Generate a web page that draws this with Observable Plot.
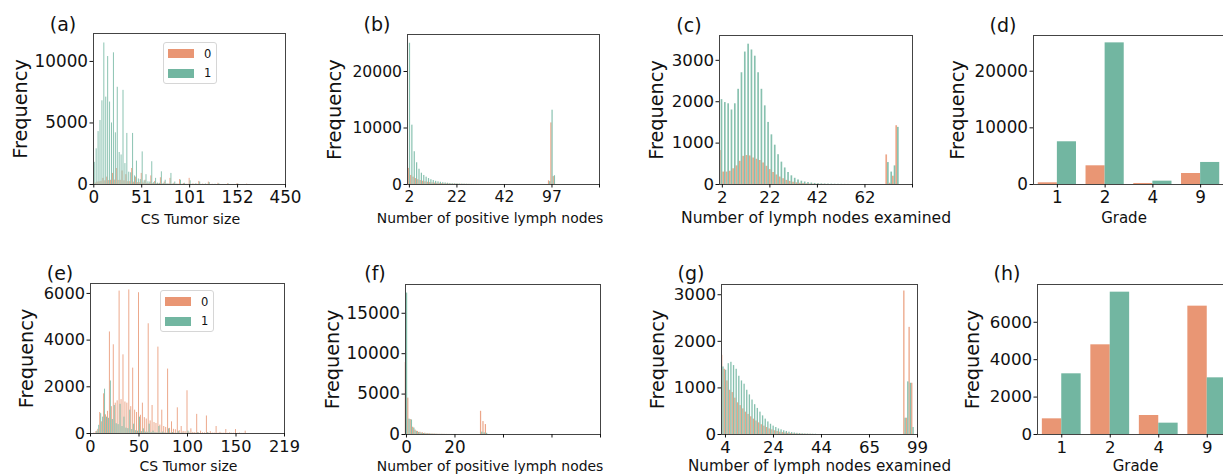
<!DOCTYPE html>
<html><head><meta charset="utf-8">
<script src="https://cdn.jsdelivr.net/npm/d3@7"></script>
<script src="https://cdn.jsdelivr.net/npm/@observablehq/plot@0.6"></script>
<style>
body{margin:0;background:#fff;font-family:"DejaVu Sans",sans-serif;}
#fig{position:relative;width:1223px;height:475px;overflow:hidden;background:#fff;}
.legend{position:absolute;border:1px solid #d6d6d6;border-radius:3px;background:rgba(255,255,255,0.85);box-sizing:border-box;}
.legend .patch{position:absolute;width:26px;height:9px;}
.legend .lab{position:absolute;font-size:11.5px;line-height:12px;color:#111;}
</style></head><body><div id="fig"></div>
<script>
// ---------------- data ----------------
const seriesLabels = ["0", "1"];
const seriesColors = ["#e99674", "#72b6a1"];
const yLabel = "Frequency";

// (a) CS Tumor size (bins of two encoded values)
const aTicks = [0, 50, 100, 150, 200];
const aTickLabels = ["0", "51", "101", "152", "450"];
const aZero = [100,120,200,220,260,500,300,600,320,340,
 900,360,1300,330,340,1100,300,800,230,230,
 1300,190,600,150,150,900,120,350,90,80,
 700,70,250,50,50,550,40,200,30,30,
 500,20,100,20,20,400,15,80,15,15,
 500,10,50,10,10,250,5,30,5,5,
 200,0,20,0,0,100,0,0,0,0,
 60,0,0,0,0,80,0,0,0,0,
 30];
const aOne = [1800,2900,4300,5200,6800,11500,7100,10400,6700,5000,
 10700,4200,7900,2600,2400,7650,1700,4150,1000,950,
 4150,700,1900,450,400,2650,300,800,220,200,
 1850,150,500,110,90,1030,70,350,50,45,
 900,35,200,25,20,350,15,100,12,10,
 300,8,8,60,8,200,5,5,40,5,
 150,0,0,20,0,60,0,0,0,0,
 40,0,0,0,0,30];

// (b) Number of positive lymph nodes
const bTicks = [0, 20, 40, 60, 80];
const bTickLabels = ["2", "22", "42", "97", ""];
const bZero = [2850,1600,1300,1050,850,700,580,480,400,340,
 290,250,210,180,150,130,110,95,80,70,
 60,50,40,35,30,25,20,15,10,8,
 6,5,4,0,0,0,0,0,0,0,
 0,0,0,0,0,0,0,0,0,0,
 0,0,0,0,0,0,0,0,0,650,
 10900,1400];
const bOne = [25000,10500,5800,3850,2700,2000,1600,1300,1050,850,
 700,560,470,390,320,270,220,180,150,130,
 110,90,75,60,50,40,30,25,20,15,
 10,8,6,5,4,0,0,0,0,0,
 0,0,0,0,0,0,0,0,0,0,
 0,0,0,0,0,0,0,0,0,500,
 13150,1550];

// (c) Number of lymph nodes examined
const cTicks = [0, 20, 40, 60, 80];
const cTickLabels = ["2", "22", "42", "62", ""];
const cZero = [820,300,300,320,380,450,560,680,700,690,
 640,610,580,520,440,360,290,230,180,140,
 100,75,55,40,30,22,16,12,8,6,
 4,3,2,0,0,0,0,0,0,0,
 0,0,0,0,0,0,0,0,0,0,
 715,30,200,1420];
const cOne = [2050,1980,1950,1800,1950,2300,2700,3200,3390,3250,
 3100,2700,2300,1900,1500,1200,950,720,540,400,
 290,210,150,110,80,60,45,35,25,20,
 15,12,10,8,6,5,4,3,2,0,
 0,0,0,0,0,0,0,0,0,0,
 530,300,450,1380];

// (d) Grade
const dGrades = ["1", "2", "4", "9"];
const dZero = [300, 3300, 180, 1940];
const dOne = [7540, 25000, 590, 3890];

// (e) CS Tumor size (bins of two encoded values)
const eTicks = [0, 50, 100, 150, 200];
const eTickLabels = ["0", "50", "100", "150", "219"];
const eZero = [0,0,20,80,180,900,500,1700,800,950,
 4350,1150,3800,1300,1400,6100,1450,3370,1350,1300,
 6150,1150,2800,1000,900,6030,780,1300,680,620,
 4700,540,1200,470,430,3700,360,1000,300,260,
 2760,220,500,180,160,1100,120,300,90,80,
 1830,60,200,45,38,820,30,100,30,25,
 750,20,80,20,20,300,15,50,15,15,
 170,10,30,10,10,170,5,20,5,5,
 100];
const eOne = [0,0,0,100,350,850,700,1900,700,650,
 2250,600,1200,420,380,1250,300,700,230,210,
 1000,170,400,120,100,700,80,200,60,55,
 400,45,100,35,30,300,25,60,20,15,
 200,15,40,10,10,80,5,20,5,5,
 100,5,10,5,5,40,0,0,0,0,
 40];

// (f) Number of positive lymph nodes
const fTicks = [0, 20, 40, 60, 80];
const fTickLabels = ["0", "20", "", "", ""];
const fZero = [8900,4500,1850,900,550,380,280,210,160,120,
 90,70,55,40,30,25,20,15,10,8,
 6,5,4,3,2,0,0,0,0,0,
 0,2870,1600,1230];
const fOne = [17500,1900,1800,800,400,250,170,120,90,70,
 50,40,30,20,15,10,8,6,5,4,
 3,2,0,0,0,0,0,0,0,0,
 0,290,200,150];

// (g) Number of lymph nodes examined
const gTicks = [0, 20, 40, 60, 80];
const gTickLabels = ["4", "24", "44", "65", "99"];
const gZero = [1700,1400,1150,950,900,780,680,620,550,480,
 430,380,330,290,250,210,180,150,120,100,
 80,65,50,40,32,25,20,15,12,10,
 8,6,5,4,3,0,0,0,0,0,
 0,0,0,0,0,0,0,0,0,0,
 0,0,0,0,0,0,0,0,0,0,
 0,0,0,0,0,0,0,0,0,3080,
 350,2300,1100];
const gOne = [1450,1380,1520,1550,1480,1400,1250,1150,1080,950,
 850,740,640,560,480,400,330,270,220,180,
 150,120,100,80,65,50,40,32,25,20,
 15,12,10,8,6,5,0,0,0,0,
 0,0,0,0,0,0,0,0,0,0,
 0,0,0,0,0,0,0,0,0,0,
 0,0,0,0,0,0,0,0,0,350,
 1130,1100,150];

// (h) Grade
const hGrades = ["1", "2", "4", "9"];
const hZero = [838, 4795, 1016, 6862];
const hOne = [3245, 7610, 606, 3030];

// ---------------- drawing ----------------
const fig = document.getElementById("fig");
const ML = 95, MT = 42, MR = 15, MB = 50;

function rows(counts, start, step, width, half) {
  return counts.map((v, k) => {
    const L = start + k * step;
    return half === 0 ? {x1: L, x2: L + width / 2, v} : {x1: L + width / 2, x2: L + width, v};
  }).filter(d => d.v > 0);
}

function drawPanel(p) {
  const zero = rows(p.zero, p.start, p.step, p.width, 0);
  const one = rows(p.one, p.start, p.step, p.width, 1);
  const svg = Plot.plot({
    width: ML + p.w + MR,
    height: MT + p.h + MB,
    marginLeft: ML, marginRight: MR, marginTop: MT, marginBottom: MB,
    style: {fontFamily: '"DejaVu Sans", sans-serif', color: "#111", background: "transparent", overflow: "visible"},
    x: {domain: p.xDomain},
    y: {domain: p.yDomain},
    marks: [
      Plot.rect(zero, {x1: "x1", x2: "x2", y1: 0, y2: "v", fill: seriesColors[0], fillOpacity: p.opacity}),
      Plot.rect(one, {x1: "x1", x2: "x2", y1: 0, y2: "v", fill: seriesColors[1], fillOpacity: p.opacity}),
      Plot.frame({stroke: "#444", strokeWidth: 1}),
      Plot.axisX({ticks: p.xTicks, tickFormat: d => p.xLabels[p.xTicks.indexOf(d)], tickSize: 3.5, tickPadding: 3, fontSize: p.tickFont, label: null}),
      Plot.axisY({ticks: p.yTicks, tickFormat: d => String(d), tickSize: 3.5, tickPadding: 2, fontSize: p.tickFont, label: null}),
      Plot.text([yLabel], {text: d => d, frameAnchor: "left", textAnchor: "middle", lineAnchor: "middle", rotate: -90, dx: -p.yLabelOff, fontSize: p.yLabelFont}),
      Plot.text([p.xLabel], {text: d => d, frameAnchor: "bottom", textAnchor: "middle", lineAnchor: "middle", dy: p.xLabelDy, dx: p.xLabelDx, fontSize: p.xLabelFont}),
      Plot.text([p.letter], {text: d => d, frameAnchor: "top-left", textAnchor: "middle", lineAnchor: "middle", dx: -30.5, dy: p.letterDy, fontSize: 19})
    ]
  });
  svg.style.position = "absolute";
  svg.style.left = (p.left - ML) + "px";
  svg.style.top = (p.top - MT) + "px";
  fig.appendChild(svg);
}

function drawLegend(left, top) {
  const div = document.createElement("div");
  div.className = "legend";
  Object.assign(div.style, {left: left + "px", top: top + "px", width: "54px", height: "42px"});
  seriesLabels.forEach((s, i) => {
    const patch = document.createElement("div");
    patch.className = "patch";
    Object.assign(patch.style, {left: "4px", top: (6 + i * 19.5) + "px", background: seriesColors[i]});
    const lab = document.createElement("div");
    lab.className = "lab";
    lab.textContent = s;
    Object.assign(lab.style, {left: "40px", top: (4.5 + i * 19.5) + "px"});
    div.appendChild(patch);
    div.appendChild(lab);
  });
  fig.appendChild(div);
}

const histOpacity = 0.85;
const panels = [
  {letter: "(a)", xLabel: "CS Tumor size", left: 93, top: 33, w: 192, h: 151,
   zero: aZero, one: aOne, start: -0.5, step: 2, width: 2, xDomain: [-0.3, 200], yDomain: [0, 12270],
   xTicks: aTicks, xLabels: aTickLabels, yTicks: [0, 5000, 10000], tickFont: 16.8, yLabelFont: 19.3, xLabelFont: 14.2,
   yLabelOff: 73, xLabelDx: 1, xLabelDy: 34.5, letterDy: -8.7, opacity: histOpacity},
  {letter: "(b)", xLabel: "Number of positive lymph nodes", left: 407, top: 34, w: 192, h: 150,
   zero: bZero, one: bOne, start: -0.5, step: 1, width: 1, xDomain: [-0.8, 80], yDomain: [0, 26550],
   xTicks: bTicks, xLabels: bTickLabels, yTicks: [0, 10000, 20000], tickFont: 15.6, yLabelFont: 19.5, xLabelFont: 13.9,
   yLabelOff: 73, xLabelDx: -13.5, xLabelDy: 34, letterDy: -9.5, opacity: histOpacity},
  {letter: "(c)", xLabel: "Number of lymph nodes examined", left: 719, top: 35, w: 193, h: 149,
   zero: cZero, one: cOne, start: -1.2, step: 1.4, width: 1.4, xDomain: [-1.2, 80], yDomain: [0, 3600],
   xTicks: cTicks, xLabels: cTickLabels, yTicks: [0, 1000, 2000, 3000], tickFont: 16.6, yLabelFont: 19.3, xLabelFont: 15.6,
   yLabelOff: 63, xLabelDx: 0, xLabelDy: 33.5, letterDy: -10, opacity: histOpacity},
  {letter: "(d)", xLabel: "Grade", left: 1033, top: 35, w: 191, h: 149,
   zero: dZero, one: dOne, start: -0.4, step: 1, width: 0.8, xDomain: [-0.5, 3.5], yDomain: [0, 26300],
   xTicks: [0, 1, 2, 3], xLabels: dGrades, yTicks: [0, 10000, 20000], tickFont: 16.8, yLabelFont: 19.3, xLabelFont: 15,
   yLabelOff: 76, xLabelDx: -5, xLabelDy: 33.5, letterDy: -10, opacity: 1},
  {letter: "(e)", xLabel: "CS Tumor size", left: 90, top: 283, w: 194, h: 150,
   zero: eZero, one: eOne, start: -0.5, step: 2, width: 2, xDomain: [0, 200], yDomain: [0, 6425],
   xTicks: eTicks, xLabels: eTickLabels, yTicks: [0, 2000, 4000, 6000], tickFont: 16.2, yLabelFont: 19.3, xLabelFont: 14,
   yLabelOff: 64, xLabelDx: 1, xLabelDy: 33.5, letterDy: -9.7, opacity: histOpacity},
  {letter: "(f)", xLabel: "Number of positive lymph nodes", left: 405, top: 284, w: 195, h: 150,
   zero: fZero, one: fOne, start: -0.5, step: 1, width: 1, xDomain: [-0.4, 80], yDomain: [0, 18560],
   xTicks: fTicks, xLabels: fTickLabels, yTicks: [0, 5000, 10000, 15000], tickFont: 16.8, yLabelFont: 19.3, xLabelFont: 13.9,
   yLabelOff: 73, xLabelDx: -13, xLabelDy: 32.5, letterDy: -10.5, opacity: histOpacity},
  {letter: "(g)", xLabel: "Number of lymph nodes examined", left: 721, top: 284, w: 196, h: 150,
   zero: gZero, one: gOne, start: -1.66, step: 1.1, width: 1.1, xDomain: [-1.66, 80], yDomain: [0, 3220],
   xTicks: gTicks, xLabels: gTickLabels, yTicks: [0, 1000, 2000, 3000], tickFont: 16.6, yLabelFont: 19.3, xLabelFont: 15.2,
   yLabelOff: 64, xLabelDx: 0, xLabelDy: 31.5, letterDy: -10.5, opacity: histOpacity},
  {letter: "(h)", xLabel: "Grade", left: 1037, top: 284, w: 194, h: 150,
   zero: hZero, one: hOne, start: -0.4, step: 1, width: 0.8, xDomain: [-0.5, 3.5], yDomain: [0, 8020],
   xTicks: [0, 1, 2, 3], xLabels: hGrades, yTicks: [0, 2000, 4000, 6000], tickFont: 16.6, yLabelFont: 19.3, xLabelFont: 15,
   yLabelOff: 65, xLabelDx: 1, xLabelDy: 31.5, letterDy: -11, opacity: 1}
];

panels.forEach(drawPanel);
drawLegend(163, 42);
drawLegend(160, 290);
</script></body></html>
